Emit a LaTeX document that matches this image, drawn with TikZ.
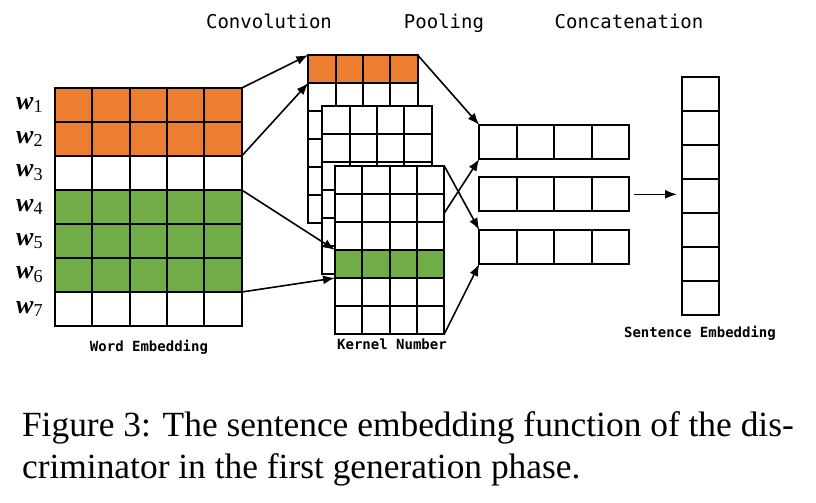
\documentclass[tikz,border=0pt]{standalone}
\usepackage{fontspec}
\setmainfont{Liberation Serif}
\newfontfamily\labelfont{DejaVu Sans Mono}
\usepackage{xcolor}
\usetikzlibrary{arrows.meta}
\definecolor{embOrange}{HTML}{ED7D31}
\definecolor{embGreen}{HTML}{70AD47}
\tikzset{>={Latex[length=6pt,width=4.5pt]}}
\tikzset{
	cell/.style={draw, line width=0.9pt, fill=white},
	headtext/.style={anchor=base, font=\labelfont\fontsize{9.5}{11}\selectfont},
	subtext/.style={anchor=base, font=\labelfont\bfseries\fontsize{7}{8}\selectfont},
	wlabel/.style={font=\fontsize{13}{13}\selectfont},
	captext/.style={anchor=base west, font=\fontsize{17.7}{18}\selectfont},
	link/.style={->, line width=0.8pt}
}

\begin{document}
\begin{tikzpicture}[x=0.5pt,y=-0.5pt]
			\useasboundingbox (0,0) rectangle (816,503);

			% Word embedding
			\foreach \r/\col in {1/embOrange,2/embOrange,3/white,4/embGreen,5/embGreen,6/embGreen,7/white}{
				\foreach \c in {1,...,5}
					\draw[cell, fill=\col] ({55+(\c-1)*37.33},{88+(\r-1)*34}) rectangle +(37.33,34);
				\node[wlabel] (w\r) at (30,{105+(\r-1)*34}) {\textbf{\textit{w}}\textsubscript{\r}};
			}

			% Kernel layers
			\foreach \r in {1,...,6}
				\foreach \c in {1,...,4}
					\draw[cell] ({308.3+(\c-1)*27.33},{55+(\r-1)*28}) rectangle +(27.33,28);
			\foreach \c in {1,...,4}
				\draw[cell, fill=embOrange] ({308.3+(\c-1)*27.33},55) rectangle +(27.33,28);
			\foreach \r in {1,...,6}
				\foreach \c in {1,...,4}
					\draw[cell] ({322.3+(\c-1)*27.33},{105.7+(\r-1)*28}) rectangle +(27.33,28);
			\foreach \r in {1,...,6}
				\foreach \c in {1,...,4}
					\draw[cell] ({335+(\c-1)*27.33},{166+(\r-1)*28}) rectangle +(27.33,28);
			\foreach \c in {1,...,4}
				\draw[cell, fill=embGreen] ({335+(\c-1)*27.33},250) rectangle +(27.33,28);

			% Pooling vectors
			\foreach \y in {125,177.3,230}
				\foreach \c in {1,...,4}
					\draw[cell] ({479.3+(\c-1)*37.5},\y) rectangle +(37.5,34);

			% Sentence embedding
			\foreach \r in {1,...,7}
				\draw[cell] (681.7,{76.7+(\r-1)*34}) rectangle +(37.6,34);

			% Points
			\coordinate (E1) at (241.7,88);
			\coordinate (E2) at (241.7,156);
			\coordinate (E3) at (241.7,190);
			\coordinate (E4) at (241.7,292);
			\coordinate (K1) at (308.3,55);
			\coordinate (K2) at (308.3,83);
			\coordinate (K3) at (335,250);
			\coordinate (K4) at (335,278);
			\coordinate (K5) at (417.6,55);
			\coordinate (K6) at (444.3,166);
			\coordinate (K7) at (444.3,213);
			\coordinate (K8) at (444.3,334);
			\coordinate (P1) at (479.3,125);
			\coordinate (P2) at (479.3,159);
			\coordinate (P3) at (479.3,230);
			\coordinate (P4) at (479.3,264);
			\coordinate (P5) at (634,194.3);
			\coordinate (S1) at (677,194.3);

			% Draw arrows
			\draw[link] (E1) -- (K1);
			\draw[link] (E2) -- (K2);
			\draw[link] (E3) -- (K3);
			\draw[link] (E4) -- (K4);
			\draw[link] (K5) -- (P1);
			\draw[link] (K7) -- (P2);
			\draw[link] (K6) -- (P3);
			\draw[link] (K8) -- (P4);
			\draw[link] (P5) -- (S1);

			% Labels
			\node[headtext] (conv) at (269,28) {Convolution};
			\node[headtext] (pool) at (444,28) {Pooling};
			\node[headtext] (concat) at (629,28) {Concatenation};
			\node[subtext] (wordemb) at (149,351) {Word Embedding};
			\node[subtext] (kernel) at (392,349) {Kernel Number};
			\node[subtext] (sentemb) at (700,337) {Sentence Embedding};

			% Caption
			\node[captext] (cap1) at (15,436) {Figure 3: The sentence embedding function of the dis-};
			\node[captext] (cap2) at (15,478) {criminator in the first generation phase.};
		\end{tikzpicture}
\end{document}
